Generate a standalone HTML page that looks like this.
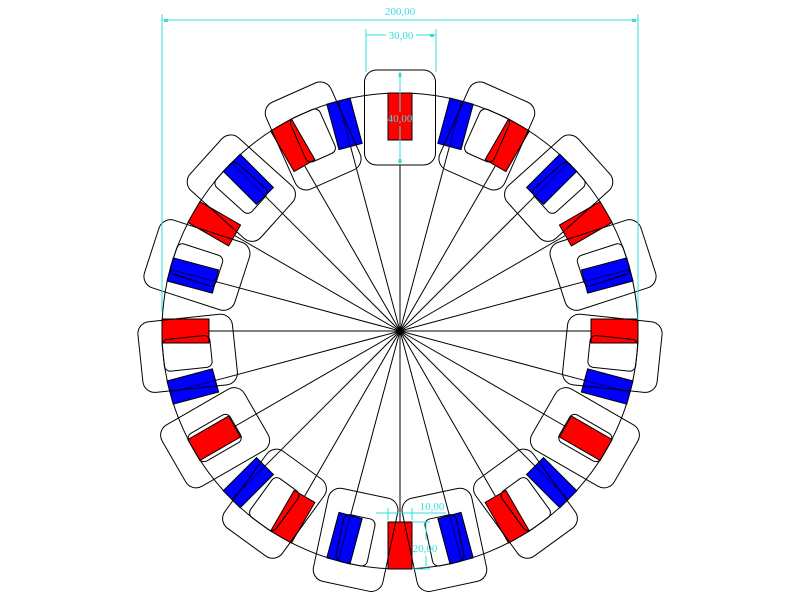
<!DOCTYPE html>
<html><head><meta charset="utf-8"><style>body{margin:0;background:#fff}svg{display:block}</style></head>
<body>
<svg width="800" height="600" viewBox="0 0 800 600" xmlns="http://www.w3.org/2000/svg">
<defs>
<g id="sp"><line x1="400" y1="331" x2="400" y2="140" stroke="#000" stroke-width="1"/></g>
<g id="mr"><rect x="388" y="93" width="24" height="47" fill="#f00" stroke="#000" stroke-width="1"/></g>
<g id="mb"><rect x="388" y="93" width="24" height="47" fill="#00f" stroke="#000" stroke-width="1"/><line x1="400" y1="93" x2="400" y2="140" stroke="#000" stroke-width="0.6"/></g>
<g id="bx"><rect x="364.5" y="70" width="71" height="95" rx="12" fill="none" stroke="#000" stroke-width="1"/></g>
<g id="bi"><rect x="364.5" y="70" width="71" height="95" rx="12" fill="none" stroke="#000" stroke-width="1"/><rect x="384" y="93" width="32" height="48" rx="6" fill="none" stroke="#000" stroke-width="1"/></g>
</defs>
<circle cx="400" cy="331" r="238" fill="none" stroke="#000" stroke-width="1"/>
<use href="#sp"/><use href="#sp" transform="rotate(15 400 331)"/><use href="#sp" transform="rotate(30 400 331)"/><use href="#sp" transform="rotate(45 400 331)"/><use href="#sp" transform="rotate(60 400 331)"/><use href="#sp" transform="rotate(75 400 331)"/><use href="#sp" transform="rotate(90 400 331)"/><use href="#sp" transform="rotate(105 400 331)"/><use href="#sp" transform="rotate(120 400 331)"/><use href="#sp" transform="rotate(135 400 331)"/><use href="#sp" transform="rotate(150 400 331)"/><use href="#sp" transform="rotate(165 400 331)"/><use href="#sp" transform="rotate(180 400 331)"/><use href="#sp" transform="rotate(195 400 331)"/><use href="#sp" transform="rotate(210 400 331)"/><use href="#sp" transform="rotate(225 400 331)"/><use href="#sp" transform="rotate(240 400 331)"/><use href="#sp" transform="rotate(255 400 331)"/><use href="#sp" transform="rotate(270 400 331)"/><use href="#sp" transform="rotate(285 400 331)"/><use href="#sp" transform="rotate(300 400 331)"/><use href="#sp" transform="rotate(315 400 331)"/><use href="#sp" transform="rotate(330 400 331)"/><use href="#sp" transform="rotate(345 400 331)"/>
<use href="#mr"/><use href="#mb" transform="rotate(15 400 331)"/><use href="#mr" transform="rotate(30 400 331)"/><use href="#mb" transform="rotate(45 400 331)"/><use href="#mr" transform="rotate(60 400 331)"/><use href="#mb" transform="rotate(75 400 331)"/><use href="#mr" transform="rotate(90 400 331)"/><use href="#mb" transform="rotate(105 400 331)"/><use href="#mr" transform="rotate(120 400 331)"/><use href="#mb" transform="rotate(135 400 331)"/><use href="#mr" transform="rotate(150 400 331)"/><use href="#mb" transform="rotate(165 400 331)"/><use href="#mr" transform="rotate(180 400 331)"/><use href="#mb" transform="rotate(195 400 331)"/><use href="#mr" transform="rotate(210 400 331)"/><use href="#mb" transform="rotate(225 400 331)"/><use href="#mr" transform="rotate(240 400 331)"/><use href="#mb" transform="rotate(255 400 331)"/><use href="#mr" transform="rotate(270 400 331)"/><use href="#mb" transform="rotate(285 400 331)"/><use href="#mr" transform="rotate(300 400 331)"/><use href="#mb" transform="rotate(315 400 331)"/><use href="#mr" transform="rotate(330 400 331)"/><use href="#mb" transform="rotate(345 400 331)"/>
<use href="#bx"/><use href="#bi" transform="rotate(24 400 331)"/><use href="#bi" transform="rotate(48 400 331)"/><use href="#bi" transform="rotate(72 400 331)"/><use href="#bi" transform="rotate(96 400 331)"/><use href="#bi" transform="rotate(120 400 331)"/><use href="#bi" transform="rotate(144 400 331)"/><use href="#bi" transform="rotate(168 400 331)"/><use href="#bi" transform="rotate(192 400 331)"/><use href="#bi" transform="rotate(216 400 331)"/><use href="#bi" transform="rotate(240 400 331)"/><use href="#bi" transform="rotate(264 400 331)"/><use href="#bi" transform="rotate(288 400 331)"/><use href="#bi" transform="rotate(312 400 331)"/><use href="#bi" transform="rotate(336 400 331)"/>
<g stroke="#33dde0" stroke-width="1" fill="none">
<line x1="162" y1="14" x2="162" y2="312"/><line x1="638" y1="14" x2="638" y2="320"/><line x1="162" y1="20" x2="638" y2="20"/>
<line x1="366" y1="29" x2="366" y2="72"/><line x1="436" y1="29" x2="436" y2="72"/><line x1="366" y1="35" x2="386" y2="35"/><line x1="416" y1="35" x2="436" y2="35"/>
<line x1="400" y1="72" x2="400" y2="112"/><line x1="400" y1="126" x2="400" y2="165"/>
<line x1="388" y1="508" x2="388" y2="520"/><line x1="412" y1="508" x2="412" y2="520"/><line x1="376" y1="513" x2="446" y2="513"/>
<line x1="412" y1="522" x2="430" y2="522"/><line x1="412" y1="569" x2="430" y2="569"/><line x1="426" y1="522" x2="426" y2="540"/><line x1="426" y1="556" x2="426" y2="569"/>
</g>
<g fill="#33dde0"><rect x="164" y="19" width="4" height="3"/><rect x="632" y="19" width="4" height="3"/><rect x="430" y="34" width="4" height="3"/><rect x="398.5" y="73" width="3" height="4"/><rect x="398.5" y="159" width="3" height="4"/></g>
<g font-family="Liberation Serif, serif" font-size="11" fill="#33dde0" text-anchor="middle">
<text x="400" y="15">200,00</text><text x="401" y="39">30,00</text><text x="400" y="122">40,00</text><text x="432" y="510">10,00</text><text x="425" y="552">20,00</text>
</g>
</svg>
</body></html>
